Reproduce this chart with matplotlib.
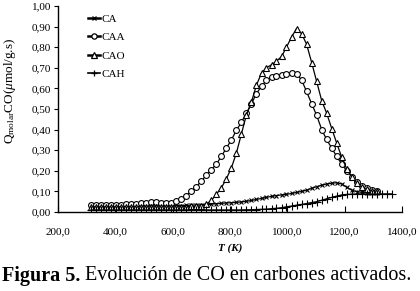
import numpy as np
import matplotlib
matplotlib.use("Agg")
import matplotlib.pyplot as plt
from matplotlib.lines import Line2D

plt.rcParams['font.family'] = ['Liberation Serif', 'DejaVu Serif']
plt.rcParams['mathtext.fontset'] = 'custom'
plt.rcParams['mathtext.rm'] = 'Liberation Serif'
plt.rcParams['mathtext.it'] = 'Liberation Serif:italic'
plt.rcParams['mathtext.bf'] = 'Liberation Serif:bold'

# Temperature grid (K)
T = [315, 332, 350, 367, 385, 402, 420, 437, 455, 472, 490, 507, 525, 542, 560,
     577, 595, 612, 630, 647, 665, 682, 700, 717, 735, 752, 770, 787, 805, 822,
     840, 857, 875, 892, 910, 927, 945, 962, 980, 997, 1015, 1032, 1050, 1067,
     1085, 1102, 1120, 1137, 1155, 1172, 1190, 1207, 1225, 1242, 1260, 1277,
     1295, 1312]
T_cah = T + [1330, 1347, 1365]

ca = [0.030, 0.030, 0.030, 0.030, 0.030, 0.030, 0.030, 0.030, 0.030, 0.030, 0.030,
      0.030, 0.030, 0.030, 0.030, 0.030, 0.030, 0.031, 0.031, 0.032, 0.033, 0.034,
      0.035, 0.036, 0.038, 0.040, 0.042, 0.044, 0.045, 0.047, 0.049, 0.052, 0.056,
      0.061, 0.066, 0.071, 0.076, 0.080, 0.083, 0.086, 0.090, 0.095, 0.100, 0.106,
      0.115, 0.123, 0.130, 0.136, 0.140, 0.142, 0.136, 0.120, 0.106, 0.099, 0.095,
      0.093, 0.092, 0.090]

caa = [0.033, 0.033, 0.033, 0.033, 0.034, 0.035, 0.036, 0.037, 0.039, 0.041, 0.044,
       0.046, 0.047, 0.047, 0.046, 0.044, 0.044, 0.052, 0.064, 0.080, 0.100, 0.122,
       0.150, 0.178, 0.205, 0.232, 0.270, 0.310, 0.350, 0.396, 0.436, 0.480, 0.525,
       0.575, 0.610, 0.640, 0.653, 0.660, 0.667, 0.672, 0.675, 0.672, 0.640, 0.585,
       0.525, 0.470, 0.400, 0.352, 0.310, 0.270, 0.232, 0.200, 0.172, 0.146, 0.128,
       0.116, 0.107, 0.100]

cao = [0.025, 0.025, 0.025, 0.025, 0.025, 0.025, 0.025, 0.025, 0.025, 0.025, 0.025,
       0.025, 0.025, 0.025, 0.025, 0.025, 0.025, 0.025, 0.026, 0.026, 0.027, 0.028,
       0.030, 0.038, 0.056, 0.085, 0.118, 0.160, 0.215, 0.285, 0.380, 0.470, 0.535,
       0.615, 0.675, 0.700, 0.715, 0.732, 0.755, 0.800, 0.850, 0.890, 0.865, 0.815,
       0.725, 0.635, 0.540, 0.480, 0.405, 0.335, 0.265, 0.210, 0.170, 0.140, 0.120,
       0.110, 0.104, 0.100]

cah = [0.010, 0.010, 0.010, 0.010, 0.010, 0.010, 0.010, 0.010, 0.010, 0.010, 0.010,
       0.010, 0.010, 0.010, 0.010, 0.010, 0.010, 0.010, 0.010, 0.010, 0.010, 0.010,
       0.010, 0.010, 0.010, 0.010, 0.010, 0.010, 0.010, 0.010, 0.010, 0.011, 0.011,
       0.012, 0.013, 0.014, 0.016, 0.018, 0.021, 0.025, 0.029, 0.033, 0.037, 0.041,
       0.046, 0.050, 0.057, 0.064, 0.071, 0.077, 0.083, 0.085, 0.087, 0.087, 0.087,
       0.087, 0.087, 0.087, 0.088, 0.088, 0.088]

labels = ['CA', 'CAA', 'CAO', 'CAH']
xticks = [200, 400, 600, 800, 1000, 1200, 1400]
yticks = [0.0, 0.1, 0.2, 0.3, 0.4, 0.5, 0.6, 0.7, 0.8, 0.9, 1.0]

W, H = 420, 291
fig = plt.figure(figsize=(W / 100, H / 100), dpi=100)
ax = fig.add_axes([58 / W, 1 - 212 / H, (402 - 58) / W, (212 - 6) / H])

common = dict(color='black', lw=0.9, mew=0.8)
ax.plot(T, ca, marker='x', ms=3.5, **common)
ax.plot(T, caa, marker='o', ms=4.2, mfc='white', **common)
ax.plot(T, cao, marker='^', ms=4.5, mfc='white', **common)
ax.plot(T_cah, cah, marker='+', ms=5.5, **common)

ax.set_xlim(200, 1400)
ax.set_ylim(0, 1.0)
ax.set_xticks(xticks)
ax.set_xticklabels([f"{v:.1f}".replace('.', ',') for v in xticks])
ax.set_yticks(yticks)
ax.set_yticklabels([f"{v:.2f}".replace('.', ',') for v in yticks])
ax.tick_params(axis='x', direction='in', length=4, labelsize=8, pad=11)
ax.tick_params(axis='y', direction='out', length=3, labelsize=8, pad=2)
for s in ['top', 'right']:
    ax.spines[s].set_visible(False)
ax.spines['left'].set_linewidth(1.0)
ax.spines['bottom'].set_linewidth(1.0)

ax.set_xlabel('T (K)', fontsize=8, fontweight='bold', style='italic', labelpad=5)
ax.set_ylabel(r'Q$_{\mathrm{molar}}$CO($\mathit{\mu}$mol/g.s)', fontsize=9.5)
ax.yaxis.set_label_coords((18 - 58) / 344, (212 - 91) / 206)

handles = [
    Line2D([], [], color='black', lw=1.8, marker='x', ms=3.5, mew=0.9),
    Line2D([], [], color='black', lw=1.8, marker='o', ms=3.8, mfc='white', mew=0.9),
    Line2D([], [], color='black', lw=1.8, marker='^', ms=4, mfc='white', mew=0.9),
    Line2D([], [], color='black', lw=1.2, marker='+', ms=5, mew=0.9),
]
leg = ax.legend(handles, labels, loc='upper left',
                bbox_to_anchor=((88 - 58) / 344, (212 - 14) / 206),
                frameon=False, fontsize=8, handlelength=1.1, handletextpad=0.15,
                labelspacing=0.78, borderpad=0.0, borderaxespad=0.0)

# Caption
fig.canvas.draw()
renderer = fig.canvas.get_renderer()
ycap = 1 - 276 / H
fs = 13
for _ in range(3):
    t1 = fig.text(2 / W, ycap, 'Figura 5.', fontsize=fs, fontweight='bold',
                  va='center', ha='left')
    bb = t1.get_window_extent(renderer)
    t2 = fig.text((bb.x1 + fs * 0.3) / W, ycap,
                  'Evolución de CO en carbones activados.',
                  fontsize=fs, va='center', ha='left')
    bb2 = t2.get_window_extent(renderer)
    width = bb2.x1 - 2
    if abs(width - 410) < 2:
        break
    t1.remove()
    t2.remove()
    fs = fs * 410 / width

fig.savefig('out.png', dpi=100)
